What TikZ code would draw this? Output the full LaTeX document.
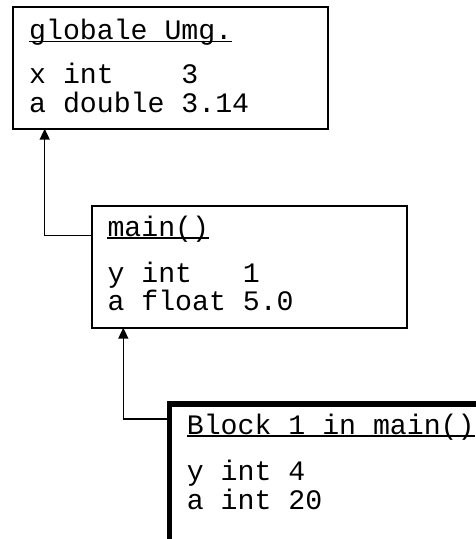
\documentclass[tikz,border=0pt]{standalone}
\usepackage{fontspec}
\newfontfamily\codefont{Liberation Mono}
\usetikzlibrary{arrows.meta}

\tikzset{
  frame/.style={draw,rectangle,line width=1.6pt,outer sep=0pt,inner sep=0pt,
    anchor=north west,minimum width=315pt,minimum height=122pt},
  code/.style={anchor=base west,inner sep=0pt,
    font=\codefont\fontsize{28.2pt}{28.5pt}\selectfont},
  uline/.style={line width=1.5pt},
  link/.style={line width=1.5pt,-{Triangle[length=11pt,width=10pt]}}
}

\begin{document}
\begin{tikzpicture}[x=1pt,y=-1pt]
  \useasboundingbox (0,0) rectangle (476,539);

  \node[frame] (umg) at (12.7,6.7) {};
  \node[code] (umgtitle) at (29,39.5) {globale Umg.};
  \node[code] (umgx) at (29,83.3) {x int~~~~3};
  \node[code] (umga) at (29,112) {a double 3.14};
  \draw[uline] ([yshift=-1.8pt]umgtitle.base west) -- ([yshift=-1.8pt]umgtitle.base east);

  \node[frame] (main) at (91.7,205.7) {};
  \node[code] (maintitle) at (107.3,236) {main()};
  \node[code] (mainy) at (107.3,282.7) {y int~~~1};
  \node[code] (maina) at (107.3,310.7) {a float 5.0};
  \draw[uline] ([yshift=-1.8pt]maintitle.base west) -- ([yshift=-1.8pt]maintitle.base east);

  \node[frame,line width=5.3pt,minimum width=360pt,minimum height=170pt] (block) at (169.3,404) {};
  \node[code] (blocktitle) at (186.7,434) {Block 1 in main()};
  \node[code] (blocky) at (186.7,480.7) {y int 4};
  \node[code] (blocka) at (186.7,509.3) {a int 20};
  \draw[uline] ([yshift=-1.8pt]blocktitle.base west) -- ([yshift=-1.8pt]blocktitle.base east);

  \draw[link] ([yshift=-30pt]main.north west) -| ([xshift=32pt]umg.south west);
  \draw[link] ([yshift=-15pt]block.north west) -| ([xshift=31.6pt]main.south west);
\end{tikzpicture}
\end{document}
